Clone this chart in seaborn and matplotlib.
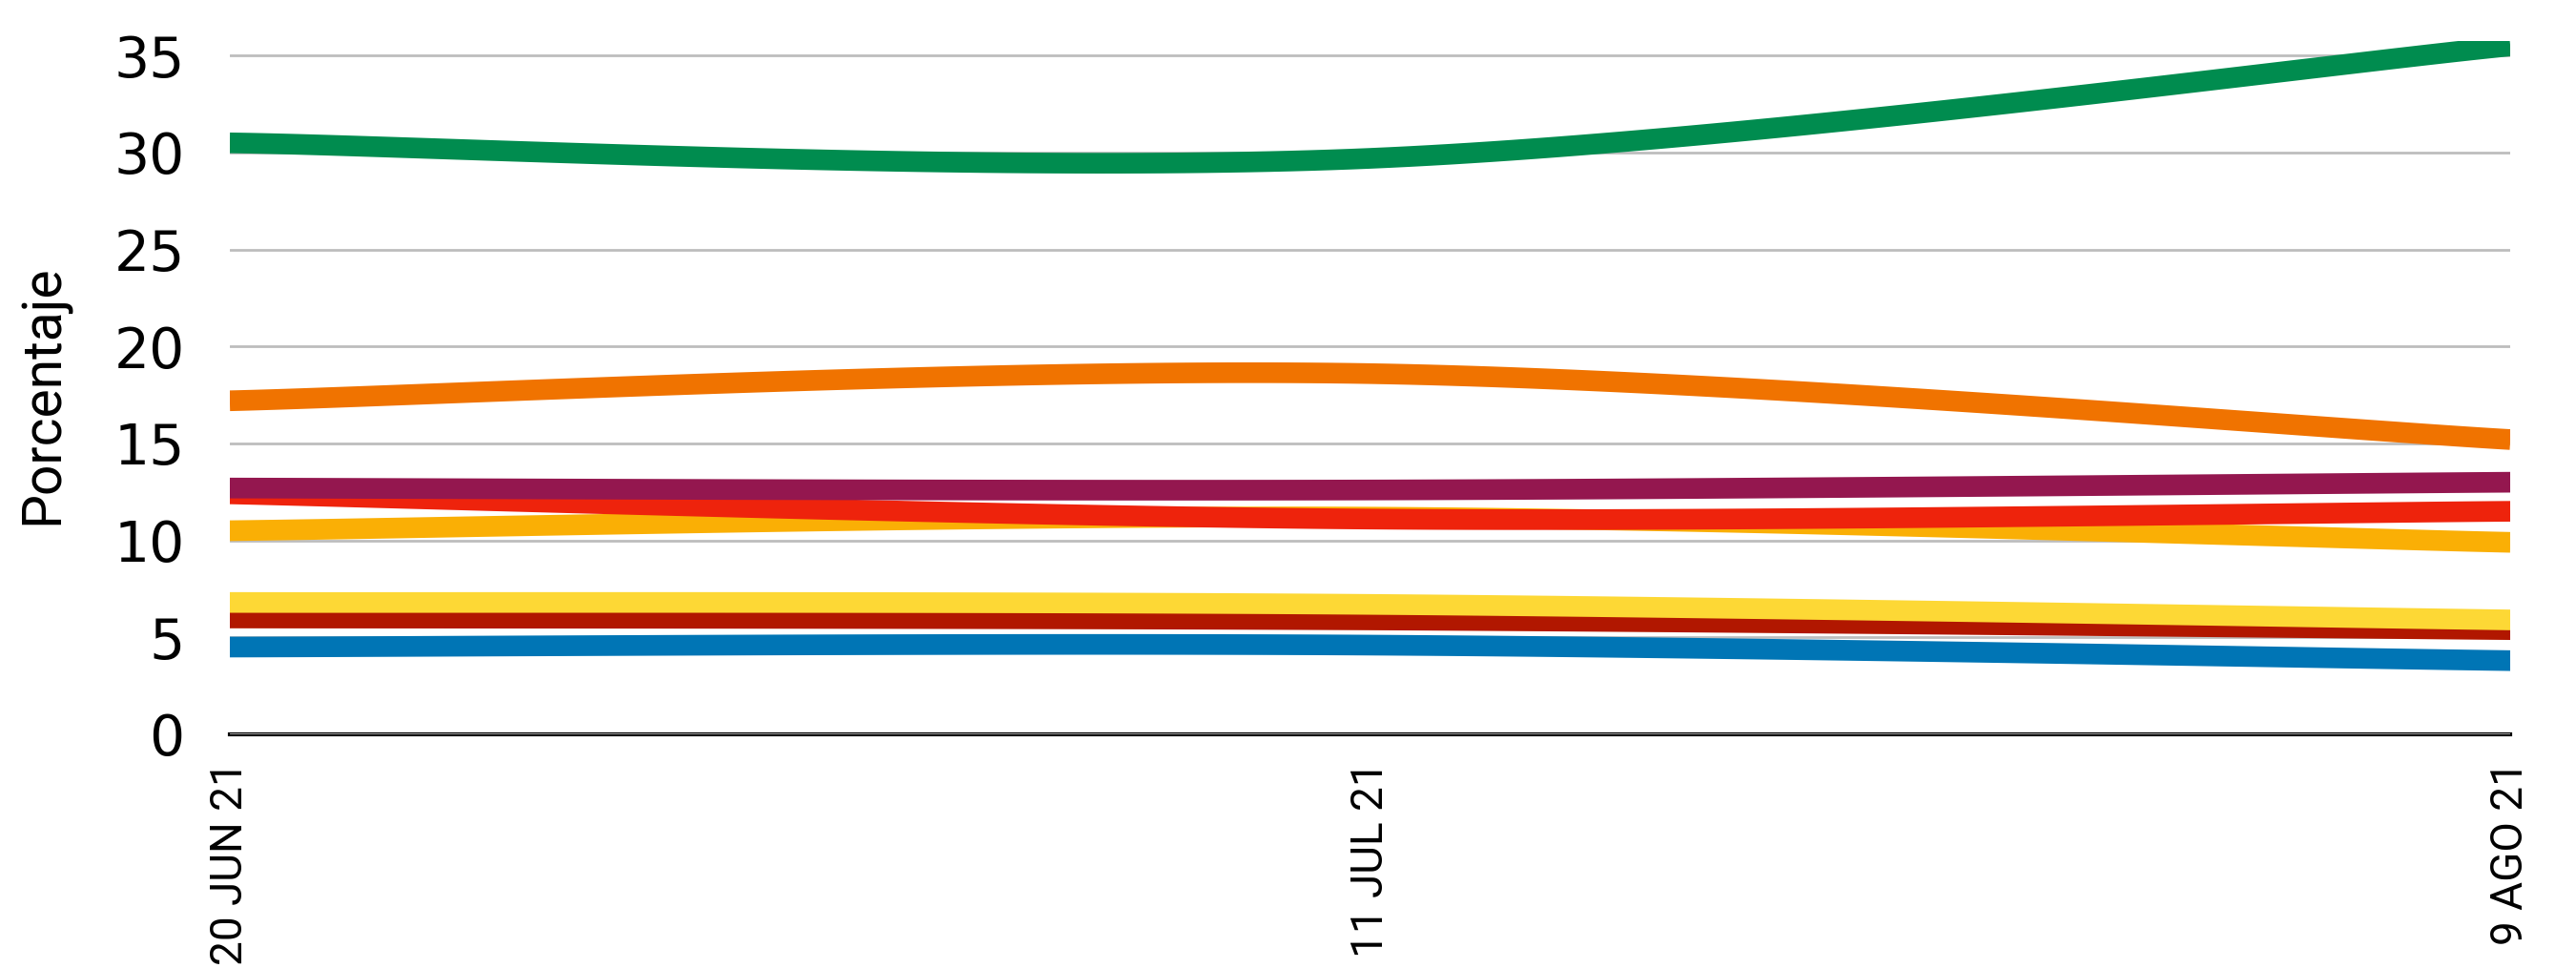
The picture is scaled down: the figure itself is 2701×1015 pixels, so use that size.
import numpy as np
import pandas as pd
import seaborn as sns
import matplotlib.pyplot as plt

# fechas (eje x categorico)
fechas = ['20 JUN 21', '11 JUL 21', '9 AGO 21']

# porcentajes por serie
verde = [30.5, 29.7, 35.5]
naranja = [17.2, 18.6, 15.2]
morado = [12.7, 12.6, 13.0]
rojo = [12.4, 11.1, 11.5]
ambar = [10.5, 11.2, 9.9]
amarillo = [6.8, 6.7, 5.9]
granate = [6.0, 5.9, 5.4]
azul = [4.5, 4.6, 3.8]

series = {
    'azul': azul,
    'granate': granate,
    'amarillo': amarillo,
    'ambar': ambar,
    'rojo': rojo,
    'morado': morado,
    'naranja': naranja,
    'verde': verde,
}
colores = {
    'azul': '#0075B5',
    'granate': '#B11700',
    'amarillo': '#FDD835',
    'ambar': '#FAAF05',
    'rojo': '#EE230C',
    'morado': '#94174F',
    'naranja': '#F07300',
    'verde': '#008C4F',
}


def suavizar(vals, n=60):
    # linea suavizada tipo Excel (bezier por tramos)
    pts = np.column_stack([np.arange(len(vals)), vals]).astype(float)
    ext = np.vstack([pts[0], pts, pts[-1]])
    xs, ys = [], []
    t = np.linspace(0, 1, n)[:, None]
    for i in range(len(pts) - 1):
        p0, p3 = pts[i], pts[i + 1]
        c1 = p0 + (ext[i + 2] - ext[i]) / 6
        c2 = p3 - (ext[i + 3] - ext[i + 1]) / 6
        b = (1 - t) ** 3 * p0 + 3 * (1 - t) ** 2 * t * c1 + 3 * (1 - t) * t ** 2 * c2 + t ** 3 * p3
        xs.extend(b[:, 0])
        ys.extend(b[:, 1])
    return xs, ys


filas = []
for nombre, vals in series.items():
    xs, ys = suavizar(vals)
    for x, y in zip(xs, ys):
        filas.append({'x': x, 'valor': y, 'serie': nombre})
df = pd.DataFrame(filas)

sns.set_style('white')
plt.rcParams['text.color'] = 'black'
plt.rcParams['xtick.color'] = 'black'
plt.rcParams['ytick.color'] = 'black'
plt.rcParams['axes.labelcolor'] = 'black'
angosta = ['Roboto', 'DejaVu Sans']

fig, ax = plt.subplots(figsize=(27.01, 10.15), dpi=100)
fig.subplots_adjust(left=0.0892, right=0.9745, top=0.958, bottom=0.2414)

sns.lineplot(data=df, x='x', y='valor', hue='serie', hue_order=list(series.keys()),
             palette=colores, estimator=None, sort=False, linewidth=15.6,
             legend=False, ax=ax)
for ln in ax.get_lines():
    ln.set_solid_capstyle('butt')

ax.set_xlim(0, 2)
ax.set_ylim(0, 35.77)
ax.set_yticks(range(0, 36, 5))
ax.set_xticks(range(len(fechas)))
ax.set_xticklabels(fechas, rotation=90, fontsize=33, family=angosta)
ax.tick_params(axis='y', labelsize=42, pad=34, length=0)
ax.tick_params(axis='x', pad=20, length=0)
ax.yaxis.grid(True, color='#BDBDBD', linewidth=2)
ax.set_axisbelow(True)

ax.set_xlabel('')
ax.set_ylabel('Porcentaje', fontsize=41, family=angosta)
ax.yaxis.set_label_coords(-0.0816, 0.49)
ax.yaxis.label.set_va('center')

sns.despine(ax=ax, left=True)
ax.spines['bottom'].set_color('black')
ax.spines['bottom'].set_linewidth(3)
ax.spines['bottom'].set_zorder(0.5)

fig.savefig('out.png', dpi=100)
